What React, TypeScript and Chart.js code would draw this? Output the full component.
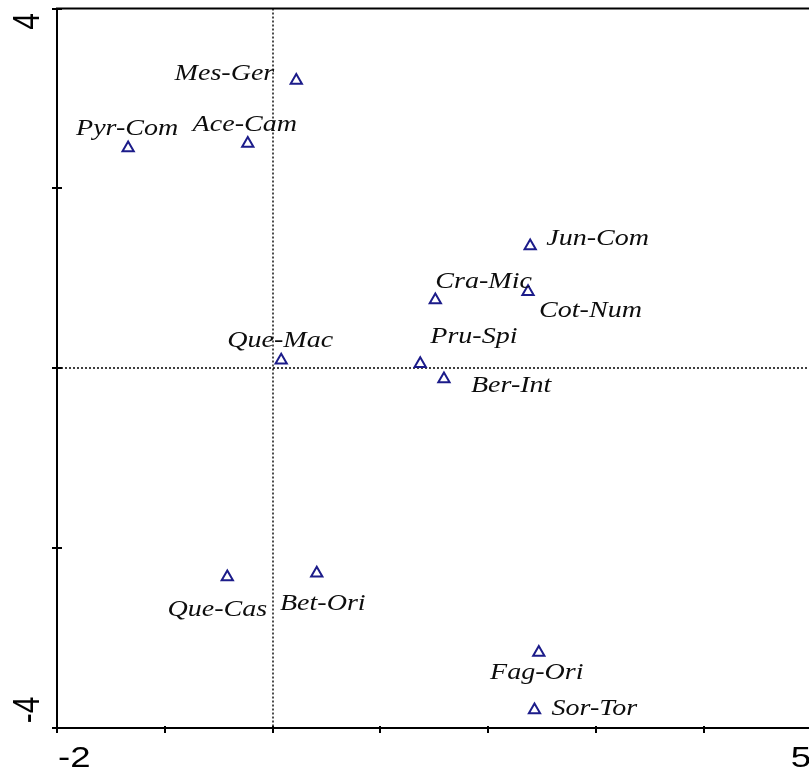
import React, { useEffect, useRef } from 'react';
import { Chart, registerables } from 'chart.js';

Chart.register(...registerables);

// ---- data ----
const species = ['Mes-Ger', 'Pyr-Com', 'Ace-Cam', 'Jun-Com', 'Cra-Mic', 'Cot-Num', 'Que-Mac', 'Pru-Spi', 'Ber-Int', 'Que-Cas', 'Bet-Ori', 'Fag-Ori', 'Sor-Tor'];
const axis1 = [0.22, -1.34, -0.23, 2.39, 1.51, 2.37, 0.08, 1.37, 1.59, -0.42, 0.41, 2.47, 2.43];
const axis2 = [3.20, 2.45, 2.50, 1.36, 0.76, 0.85, 0.09, 0.05, -0.12, -2.32, -2.28, -3.16, -3.80];
const xMin = -2;
const xMax = 5;
const yMin = -4;
const yMax = 4;
const xTickValues = [-2, -1, 0, 1, 2, 3, 4, 5];
const yTickValues = [-4, -2, 0, 2, 4];
const xTickLabels = ['-2', '5'];
const xTickLabelValues = [-2, 5];
const yTickLabels = ['4', '-4'];
const yTickLabelValues = [4, -4];

// ---- label placement (layout only) ----
const labelPlacement: { dx: number; dy: number; align: CanvasTextAlign }[] = [
  { dx: -22, dy: -6, align: 'right' },   // Mes-Ger
  { dx: -1, dy: -19, align: 'center' },  // Pyr-Com
  { dx: -3, dy: -18, align: 'center' },  // Ace-Cam
  { dx: 16, dy: -7, align: 'left' },     // Jun-Com
  { dx: 0, dy: -18, align: 'left' },     // Cra-Mic
  { dx: 11, dy: 19, align: 'left' },     // Cot-Num
  { dx: -1, dy: -19, align: 'center' },  // Que-Mac
  { dx: 10, dy: -27, align: 'left' },    // Pru-Spi
  { dx: 27, dy: 7, align: 'left' },      // Ber-Int
  { dx: -10, dy: 33, align: 'center' },  // Que-Cas
  { dx: 6, dy: 31, align: 'center' },    // Bet-Ori
  { dx: -2, dy: 21, align: 'center' },   // Fag-Ori
  { dx: 17, dy: -1, align: 'left' },     // Sor-Tor
];

const STRETCH = 1.22;
const VIEW_W = 809;
const CANVAS_W = 820;
const H = 774;

const overlay = {
  id: 'overlay',
  beforeDatasetsDraw(chart: any) {
    const { ctx, chartArea, scales } = chart;
    const x = scales.x, y = scales.y;
    ctx.save();
    ctx.setLineDash([2, 2]);
    ctx.strokeStyle = '#000';
    ctx.lineWidth = 1.4;
    const px0 = Math.round(x.getPixelForValue(0));
    const py0 = Math.round(y.getPixelForValue(0));
    ctx.beginPath();
    ctx.moveTo(px0, chartArea.top);
    ctx.lineTo(px0, chartArea.bottom);
    ctx.moveTo(chartArea.left, py0);
    ctx.lineTo(chartArea.right, py0);
    ctx.stroke();
    ctx.restore();
  },
  afterDraw(chart: any) {
    const { ctx, chartArea, scales } = chart;
    const x = scales.x, y = scales.y;
    ctx.save();
    // frame
    ctx.strokeStyle = '#000';
    ctx.lineWidth = 2;
    ctx.beginPath();
    ctx.moveTo(chartArea.right, chartArea.top);
    ctx.lineTo(chartArea.left, chartArea.top);
    ctx.lineTo(chartArea.left, chartArea.bottom);
    ctx.lineTo(chartArea.right, chartArea.bottom);
    ctx.stroke();
    // ticks
    ctx.beginPath();
    xTickValues.forEach((v) => {
      const px = Math.round(x.getPixelForValue(v));
      ctx.moveTo(px, chartArea.bottom - 2);
      ctx.lineTo(px, chartArea.bottom + 5);
    });
    yTickValues.forEach((v) => {
      const py = Math.round(y.getPixelForValue(v));
      ctx.moveTo(chartArea.left - 5, py);
      ctx.lineTo(chartArea.left + 5, py);
    });
    ctx.stroke();

    // x tick labels
    ctx.fillStyle = '#000';
    ctx.font = '30px "Liberation Sans", Arial, sans-serif';
    ctx.textBaseline = 'alphabetic';
    xTickLabels.forEach((t, i) => {
      const v = xTickLabelValues[i];
      const px = x.getPixelForValue(v);
      const w = ctx.measureText(t).width * STRETCH;
      let left = px + 1;
      if (left + w > VIEW_W) left = VIEW_W - w + 2;
      ctx.save();
      ctx.translate(left, chartArea.bottom + 39);
      ctx.scale(STRETCH, 1);
      ctx.textAlign = 'left';
      ctx.fillText(t, 0, 0);
      ctx.restore();
    });
    // y tick labels (rotated)
    yTickLabels.forEach((t, i) => {
      const v = yTickLabelValues[i];
      const py = y.getPixelForValue(v);
      const cy = v > 0 ? py + 13 : py - 18;
      ctx.save();
      ctx.translate(39, cy);
      ctx.scale(STRETCH, 1);
      ctx.rotate(-Math.PI / 2);
      ctx.textAlign = 'center';
      ctx.fillText(t, 0, 0);
      ctx.restore();
    });

    // point labels
    const meta = chart.getDatasetMeta(0);
    ctx.font = 'italic 23px "Liberation Serif", "Times New Roman", serif';
    ctx.fillStyle = '#0d0d0d';
    ctx.textBaseline = 'middle';
    species.forEach((name, i) => {
      const el = meta.data[i];
      const p = labelPlacement[i];
      ctx.save();
      ctx.translate(el.x + p.dx, el.y + p.dy);
      ctx.scale(STRETCH, 1);
      ctx.textAlign = p.align;
      ctx.fillText(name, 0, 0);
      ctx.restore();
    });
    ctx.restore();
  },
};

export default function App() {
  const ref = useRef<HTMLCanvasElement | null>(null);
  useEffect(() => {
    if (!ref.current) return;
    const chart = new Chart(ref.current, {
      type: 'scatter',
      data: {
        datasets: [
          {
            label: 'species',
            data: axis1.map((v, i) => ({ x: v, y: axis2[i] })),
            pointStyle: 'triangle',
            pointRadius: 6.5,
            pointBorderWidth: 2,
            borderColor: '#1c1c8a',
            backgroundColor: 'rgba(255,255,255,0)',
          },
        ],
      },
      options: {
        responsive: false,
        animation: false,
        devicePixelRatio: 1,
        layout: { padding: { left: 57, top: 8, right: CANVAS_W - 813, bottom: 46 } },
        plugins: { legend: { display: false }, tooltip: { enabled: false } },
        scales: {
          x: { type: 'linear', min: xMin, max: xMax, display: false },
          y: { type: 'linear', min: yMin, max: yMax, display: false },
        },
      },
      plugins: [overlay],
    });
    return () => chart.destroy();
  }, []);
  return (
    <div style={{ position: 'absolute', left: 0, top: 0, width: VIEW_W, height: H, overflow: 'hidden', background: '#fff' }}>
      <canvas ref={ref} width={CANVAS_W} height={H} style={{ display: 'block', width: CANVAS_W, height: H }} />
    </div>
  );
}
